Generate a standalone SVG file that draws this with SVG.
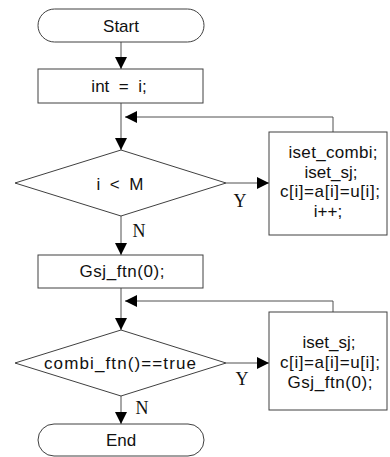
<svg xmlns="http://www.w3.org/2000/svg" width="390" height="457" viewBox="0 0 390 457">
<defs>
<style>
.shape{fill:#ffffff;stroke:#404040;stroke-width:1}
.line{fill:none;stroke:#505050;stroke-width:1}
.t{font-family:"Liberation Sans",Arial,sans-serif;font-size:17px;fill:#111;text-anchor:middle}
.yn{font-family:"Liberation Serif","Times New Roman",serif;font-size:18px;fill:#111;text-anchor:middle}
</style>
<marker id="ah" viewBox="0 0 12 12" refX="12" refY="6" markerWidth="12" markerHeight="12" markerUnits="userSpaceOnUse" orient="auto">
<path d="M0,0 L12,6 L0,12 Z" fill="#000"/>
</marker>
</defs>
<rect width="390" height="457" fill="#ffffff"/>
<g id="connectors">
<line class="line" x1="121" y1="42" x2="121" y2="69" marker-end="url(#ah)"/>
<line class="line" x1="121" y1="103" x2="121" y2="150" marker-end="url(#ah)"/>
<polyline class="line" points="333,132 333,117 125,117" marker-end="url(#ah)"/>
<line class="line" x1="226" y1="183" x2="269" y2="183" marker-end="url(#ah)"/>
<line class="line" x1="121" y1="216" x2="121" y2="255" marker-end="url(#ah)"/>
<line class="line" x1="121" y1="288" x2="121" y2="330" marker-end="url(#ah)"/>
<polyline class="line" points="333,312 333,301 125,301" marker-end="url(#ah)"/>
<line class="line" x1="226" y1="363" x2="269" y2="363" marker-end="url(#ah)"/>
<line class="line" x1="121" y1="396" x2="121" y2="424" marker-end="url(#ah)"/>
<text class="yn" x="240" y="207">Y</text>
<text class="yn" x="139" y="237">N</text>
<text class="yn" x="242" y="385">Y</text>
<text class="yn" x="142" y="414">N</text>
</g>
<g id="start">
<rect class="shape" x="38" y="9" width="166" height="33" rx="16.5"/>
<text class="t" x="121" y="31.5">Start</text>
</g>
<g id="init">
<rect class="shape" x="38" y="69" width="165" height="34"/>
<text class="t" x="119" y="92" xml:space="preserve">int  =  i;</text>
</g>
<g id="cond1">
<polygon class="shape" points="121,150 226,183 121,216 15,183"/>
<text class="t" x="120" y="190" xml:space="preserve">i  &lt;  M</text>
</g>
<g id="body1">
<rect class="shape" x="269" y="132" width="118" height="103"/>
<text class="t" x="333" y="158" textLength="89" lengthAdjust="spacing">iset_combi;</text>
<text class="t" x="331" y="177.5">iset_sj;</text>
<text class="t" x="330" y="197" textLength="100" lengthAdjust="spacing">c[i]=a[i]=u[i];</text>
<text class="t" x="328" y="216.5">i++;</text>
</g>
<g id="gsj">
<rect class="shape" x="38" y="255" width="165" height="33"/>
<text class="t" x="122" y="277" textLength="85" lengthAdjust="spacing">Gsj_ftn(0);</text>
</g>
<g id="cond2">
<polygon class="shape" points="121,330 226,363 121,396 15,363"/>
<text class="t" x="120" y="369" textLength="152" lengthAdjust="spacing">combi_ftn()==true</text>
</g>
<g id="body2">
<rect class="shape" x="269" y="312" width="118" height="98"/>
<text class="t" x="329" y="348">iset_sj;</text>
<text class="t" x="330" y="368" textLength="100" lengthAdjust="spacing">c[i]=a[i]=u[i];</text>
<text class="t" x="330" y="388" textLength="85" lengthAdjust="spacing">Gsj_ftn(0);</text>
</g>
<g id="end">
<rect class="shape" x="38" y="424" width="166" height="32" rx="16"/>
<text class="t" x="121" y="446">End</text>
</g>
</svg>
